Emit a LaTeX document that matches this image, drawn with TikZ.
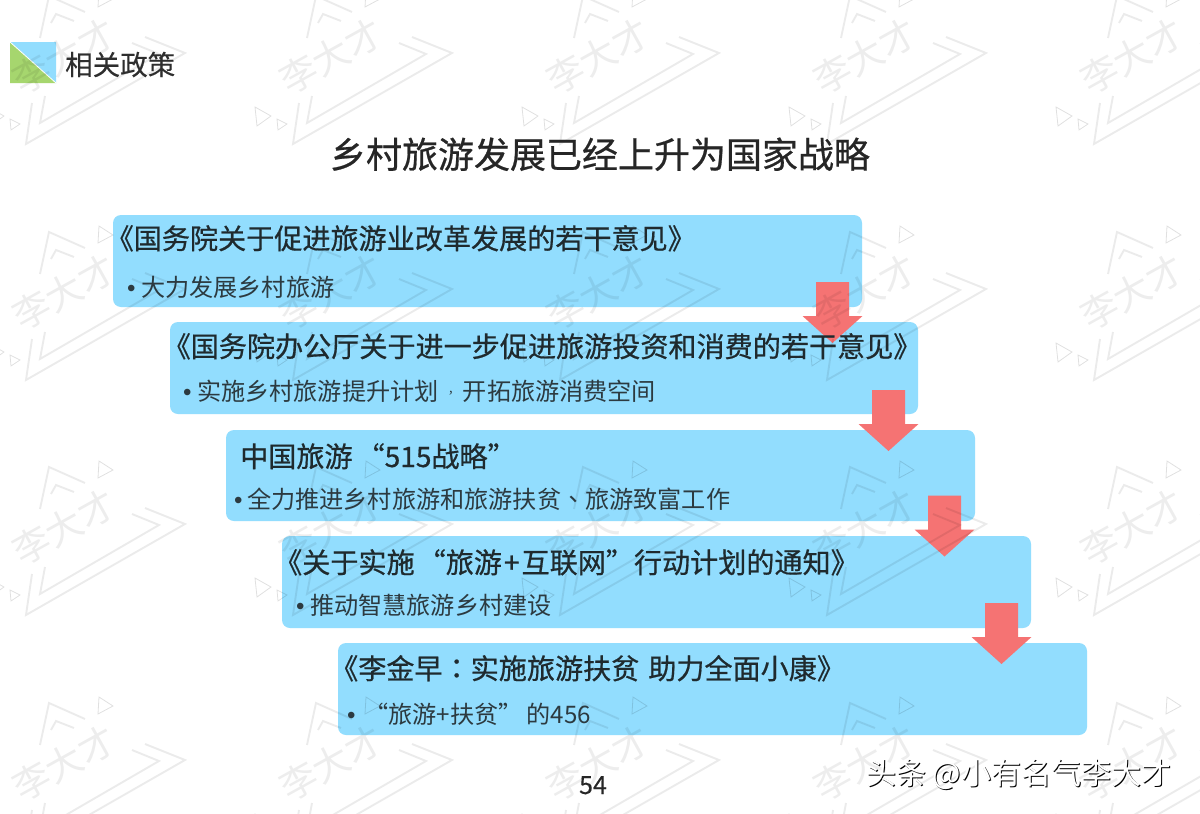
\documentclass[tikz,border=0pt]{standalone}
\usepackage{fontspec}
\setmainfont{Noto Sans CJK SC}
\newfontfamily\cjkmed[FakeBold=0.6]{Noto Sans CJK SC}
\newfontfamily\cjksect[FakeBold=0.3]{Noto Sans CJK SC}
\newfontfamily\cjktc{Noto Sans CJK TC}
\newfontfamily\cjktcmed[FakeBold=0.6]{Noto Sans CJK TC}
\newfontfamily\bulfont{Liberation Sans}
\definecolor{boxblue}{HTML}{92DDFE}
\definecolor{arrowred}{HTML}{F57373}
\definecolor{leafgreen}{HTML}{A6D66E}
\definecolor{inkhead}{HTML}{1F2A2E}
\definecolor{inksub}{HTML}{2C3A40}
\newcommand{\bul}[2]{\hbox to #1pt{{\bulfont •}\hfil}#2}
\newcommand{\tinycomma}{\makebox[24.15pt][c]{\raisebox{3pt}{\cjktc\fontsize{12}{12}\selectfont ，}}}
\newcommand{\downblock}[2]{\fill[arrowred,shift={(#1,#2)}] (-16.5,0) -- (16.5,0) -- (16.5,34) -- (30,34) -- (0,61) -- (-30,34) -- (-16.5,34) -- cycle;}
\tikzset{
  x=1pt,y=-1pt,
  panel/.style={fill=boxblue,rounded corners=8pt,draw=none},
  headline/.style={anchor=base west,inner sep=0pt,text=inkhead,font=\cjkmed\fontsize{28.1}{30}\selectfont},
  subline/.style={anchor=base west,inner sep=0pt,text=inksub,font=\fontsize{24.15}{26}\selectfont},
  wmline/.style={line width=1.9pt,draw=black,draw opacity=.08,line cap=butt,line join=miter},
  wmtri/.style={line width=.8pt,draw=black,draw opacity=.12,line join=miter},
  wmtext/.style={inner sep=0pt,rotate=29,text=black,text opacity=.07,font=\fontsize{37}{37}\selectfont}
}
\begin{document}
\begin{tikzpicture}
\useasboundingbox (0,0) rectangle (1200,814);
\fill[white] (0,0) rectangle (1200,814);
% logo
\fill[boxblue] (10,42) -- (56,42) -- (56,83) -- cycle;
\fill[leafgreen] (10,42) -- (56,83) -- (10,83) -- cycle;
\draw[white,line width=.8pt] (10,42) -- (56,83);
% panels
\fill[panel] (113,215) rectangle (862,307);
\fill[panel] (170,322) rectangle (918,414);
\fill[panel] (226,430) rectangle (975,521);
\fill[panel] (282,536) rectangle (1031,628);
\fill[panel] (338,643) rectangle (1087,735);
% block arrows
\downblock{832.5}{282}
\downblock{888.5}{390}
\downblock{944.5}{495.5}
\downblock{1001.5}{603}
% watermark
\foreach \r/\yy in {1/144,2/380,3/615,4/851}{
  \foreach \c/\xx in {1/26,2/293,3/560,4/827,5/1094}{
    \begin{scope}[shift={(\xx,\yy)}]
      \draw[wmline] (6,-41) -- (0,0) -- (159,-91) -- (119,-107);
      \draw[wmline] (19,-48) -- (14,-21) -- (133,-90) -- (106,-101);
      \draw[wmline] (14,-106) -- (23,-148) -- (59,-132);
      \draw[wmline] (25,-121) -- (30,-130) -- (48,-123);
      \draw[wmtri] (-38,-37) -- (-36,-18) -- (-22,-28) -- cycle;
      \draw[wmtri] (-16,-25) -- (-15,-14) -- (-6,-20) -- cycle;
      \draw[wmtri] (73,-154) -- (72,-137) -- (87,-145) -- cycle;
      \node[wmtext] (wm-\r-\c) at (38,-88) {李大才};
    \end{scope}
  }
}
% header
\node[anchor=base west,inner sep=0pt,text=black!82,font=\cjksect\fontsize{27.5}{30}\selectfont] (sect) at (65,75) {相关政策};
\node[inner sep=0pt,anchor=base,text=black!85,font=\cjkmed\fontsize{36}{38}\selectfont] (title) at (600,168) {乡村旅游发展已经上升为国家战略};
% panel text
\node[headline] (h1) at (105.5,249) {《国务院关于促进旅游业改革发展的若干意见》};
\node[subline] (s1) at (127,296) {\bul{14}{大力发展乡村旅游}};
\node[headline] (h2) at (162.5,357) {《国务院办公厅关于进一步促进旅游投资和消费的若干意见》};
\node[subline] (s2) at (183,400) {\bul{14}{实施乡村旅游提升计划\tinycomma 开拓旅游消费空间}};
\node[headline] (h3) at (240,467) {中国旅游\hspace{4pt}“515战略”};
\node[subline] (s3) at (234,508) {\bul{13}{全力推进乡村旅游和旅游扶贫{\cjktc 、}旅游致富工作}};
\node[headline] (h4) at (274,573) {《关于实施\hspace{3pt}“旅游\hspace{2pt}+\hspace{2pt}互联网”行动计划的通知》};
\node[subline] (s4) at (296,614) {\bul{14}{推动智慧旅游乡村建设}};
\node[headline] (h5) at (330,679) {《李金早{\cjktcmed ：}实施旅游扶贫\hspace{9pt}助力全面小康》};
\node[subline] (s5) at (347,723) {\bul{17}{“旅游+扶贫”\hspace{4pt}的456}};
% footer
\node[anchor=base,inner sep=0pt,text=black!85,font=\cjksect\fontsize{25}{26}\selectfont] (page) at (593,794) {54};
\node[anchor=base west,inner sep=0pt,text=black,font=\fontsize{30}{30}\selectfont] (credit) at (867,785) {头条 @小有名气李大才};
\node[anchor=base west,inner sep=0pt,text=white,font=\fontsize{30}{30}\selectfont] (creditshadow) at (866,784) {头条 @小有名气李大才};
\end{tikzpicture}
\end{document}
